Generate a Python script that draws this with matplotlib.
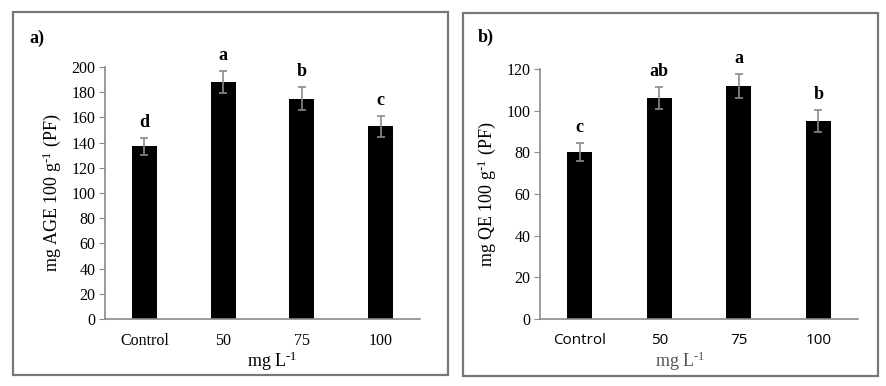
import matplotlib
matplotlib.use("Agg")
import matplotlib.pyplot as plt
from matplotlib.patches import Rectangle

plt.rcParams['font.family'] = ['Liberation Serif', 'DejaVu Serif']
plt.rcParams['mathtext.fontset'] = 'custom'
plt.rcParams['mathtext.rm'] = 'Liberation Serif'
plt.rcParams['mathtext.it'] = 'Liberation Serif:italic'

categories = ['Control', '50', '75', '100']

# panel a) phenolics
age_values = [137, 188, 175, 153]
age_err = [7, 9, 9, 8.5]
age_letters = ['d', 'a', 'b', 'c']

# panel b) flavonoids
qe_values = [80, 106, 112, 95]
qe_err = [4.3, 5.2, 5.8, 5.3]
qe_letters = ['c', 'ab', 'a', 'b']

W, H = 887, 386
fig = plt.figure(figsize=(W / 100, H / 100), dpi=100)
grey = '#8a8a8a'
sup = '$^{\\text{-}1}$'

# panel frames
for x0, y0, x1, y1 in [(13, 12, 448, 375), (463, 13, 878, 376)]:
    fig.patches.append(Rectangle((x0 / W, 1 - y1 / H), (x1 - x0) / W, (y1 - y0) / H,
                                 transform=fig.transFigure, fill=False,
                                 edgecolor='#777777', linewidth=1.6))


def panel(rect, values, err, letters, ymax, ystep, ylabel, tick_family, tick_size):
    ax = fig.add_axes(rect)
    x = range(len(categories))
    ax.bar(x, values, width=0.32, color='black', zorder=2)
    ax.errorbar(x, values, yerr=err, fmt='none', ecolor=grey, elinewidth=1.2,
                capsize=3, capthick=1.2, zorder=3)
    for i in x:
        ax.annotate(letters[i], (i, values[i] + err[i]), xytext=(0, 5),
                    textcoords='offset points', ha='center', va='bottom',
                    fontsize=13, fontweight='bold')
    ax.set_xlim(-0.5, len(categories) - 0.5)
    ax.set_ylim(0, ymax)
    ax.set_yticks(range(0, ymax + 1, ystep))
    ax.set_xticks(list(x))
    ax.set_xticklabels(categories, family=tick_family, fontsize=tick_size)
    ax.tick_params(axis='x', length=0, pad=10)
    ax.tick_params(axis='y', length=4, color=grey, labelsize=11.5, direction='out', pad=3)
    for s in ['top', 'right']:
        ax.spines[s].set_visible(False)
    for s in ['left', 'bottom']:
        ax.spines[s].set_color(grey)
        ax.spines[s].set_linewidth(1.2)
    ax.set_ylabel(ylabel, fontsize=13, labelpad=6)
    return ax


panel([105 / W, 1 - 319 / H, 315 / W, 252 / H], age_values, age_err, age_letters,
      200, 20, 'mg AGE 100 g' + sup + ' (PF)', ['Liberation Serif'], 11.5)
panel([540 / W, 1 - 319 / H, 318 / W, 250 / H], qe_values, qe_err, qe_letters,
      120, 20, 'mg QE 100 g' + sup + ' (PF)', ['Open Sans', 'DejaVu Sans'], 11)

fig.text(272 / W, 1 - 361 / H, 'mg L' + sup, ha='center', va='center', fontsize=13)
fig.text(680 / W, 1 - 361 / H, 'mg L' + sup, ha='center', va='center', fontsize=13, color='#555555')
fig.text(29 / W, 1 - 38 / H, 'a)', ha='left', va='center', fontsize=13, fontweight='bold')
fig.text(478 / W, 1 - 37 / H, 'b)', ha='left', va='center', fontsize=13, fontweight='bold')

fig.savefig('out.png', dpi=100)
